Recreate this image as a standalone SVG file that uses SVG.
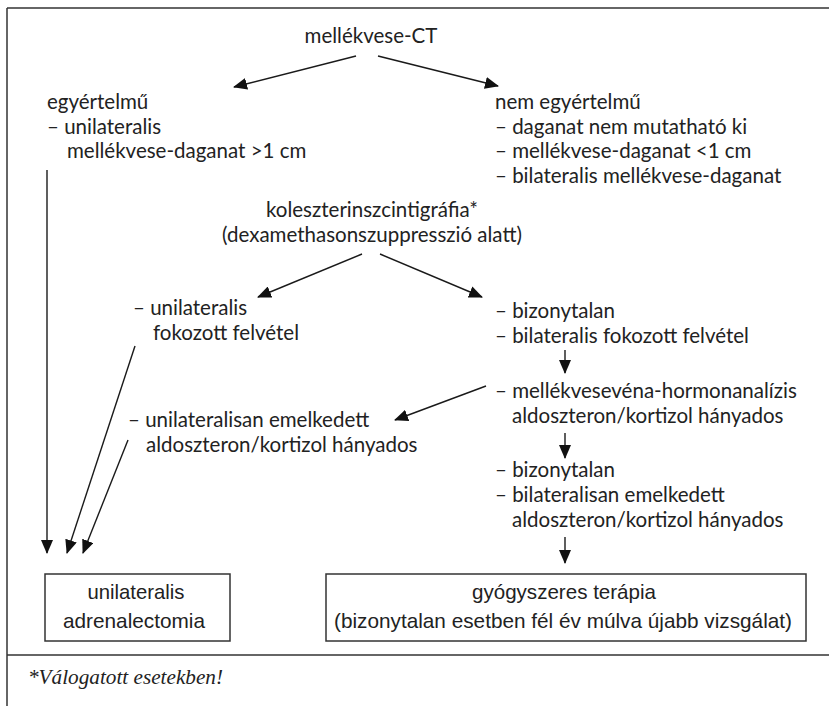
<svg xmlns="http://www.w3.org/2000/svg" width="829" height="706" viewBox="0 0 829 706">
<style>
.t{font-family:Lato,"Open Sans","DejaVu Sans",sans-serif;font-size:20.5px;fill:#222}
.b{font-family:"Liberation Sans","Arial",sans-serif;font-size:21px;fill:#222}
.f{font-family:"Liberation Serif","Times New Roman",serif;font-style:italic;font-size:20px;fill:#222}
.c{stroke:#1a1a1a;stroke-width:1.4;fill:none}
.box{fill:#fff;stroke:#333;stroke-width:1.5}
.frame{stroke:#333;stroke-width:1.5;fill:none}
</style>
<defs>
<marker id="ah" markerUnits="userSpaceOnUse" markerWidth="14" markerHeight="12" refX="13" refY="6" orient="auto">
<path d="M0,0 L14,6 L0,12 Z" fill="#111"/>
</marker>
</defs>
<rect width="829" height="706" fill="#fff"/>
<g id="frame">
<line class="frame" x1="7" y1="8" x2="829" y2="8"/>
<line class="frame" x1="7" y1="8" x2="7" y2="706"/>
<line class="frame" x1="7" y1="655" x2="829" y2="655"/>
</g>
<g id="ct"><text class="t" x="371" y="43" text-anchor="middle">mellékvese-CT</text></g>
<g id="egyertelmu">
<text class="t" x="47" y="109">egyértelmű</text>
<text class="t" x="47" y="133.5">– unilateralis</text>
<text class="t" x="67" y="158">mellékvese-daganat &gt;1 cm</text>
</g>
<g id="nemegyertelmu">
<text class="t" x="495" y="109">nem egyértelmű</text>
<text class="t" x="495" y="133.5">– daganat nem mutatható ki</text>
<text class="t" x="495" y="158">– mellékvese-daganat &lt;1 cm</text>
<text class="t" x="495" y="182.5">– bilateralis mellékvese-daganat</text>
</g>
<g id="koleszterin">
<text class="t" x="372" y="217" text-anchor="middle">koleszterinszcintigráfia*</text>
<text class="t" x="372" y="241.5" text-anchor="middle">(dexamethasonszuppresszió alatt)</text>
</g>
<g id="unilat-felvetel">
<text class="t" x="133" y="315">– unilateralis</text>
<text class="t" x="153" y="340">fokozott felvétel</text>
</g>
<g id="bizonytalan1">
<text class="t" x="495" y="318">– bizonytalan</text>
<text class="t" x="495" y="343">– bilateralis fokozott felvétel</text>
</g>
<g id="vena">
<text class="t" x="495" y="398">– mellékvesevéna-hormonanalízis</text>
<text class="t" x="512" y="423">aldoszteron/kortizol hányados</text>
</g>
<g id="unilat-emelkedett">
<text class="t" x="128" y="427">– unilateralisan emelkedett</text>
<text class="t" x="146" y="452">aldoszteron/kortizol hányados</text>
</g>
<g id="bizonytalan2">
<text class="t" x="495" y="477">– bizonytalan</text>
<text class="t" x="495" y="502">– bilateralisan emelkedett</text>
<text class="t" x="512" y="527">aldoszteron/kortizol hányados</text>
</g>
<g id="adrenalectomia">
<rect class="box" x="45" y="574" width="185" height="67"/>
<text class="b" x="136" y="599" text-anchor="middle" textLength="97" lengthAdjust="spacingAndGlyphs">unilateralis</text>
<text class="b" x="134" y="628" text-anchor="middle" textLength="142" lengthAdjust="spacingAndGlyphs">adrenalectomia</text>
</g>
<g id="terapia">
<rect class="box" x="326" y="574" width="480" height="67"/>
<text class="b" x="564" y="599" text-anchor="middle" textLength="184" lengthAdjust="spacingAndGlyphs">gyógyszeres terápia</text>
<text class="b" x="563" y="628" text-anchor="middle" textLength="458" lengthAdjust="spacingAndGlyphs">(bizonytalan esetben fél év múlva újabb vizsgálat)</text>
</g>
<g id="footnote"><text class="f" x="28" y="684" textLength="195" lengthAdjust="spacingAndGlyphs">*Válogatott esetekben!</text></g>
<g id="connectors">
<line class="c" x1="356" y1="56" x2="234" y2="87" marker-end="url(#ah)"/>
<line class="c" x1="378" y1="56" x2="498" y2="86" marker-end="url(#ah)"/>
<line class="c" x1="362" y1="254" x2="258" y2="297" marker-end="url(#ah)"/>
<line class="c" x1="380" y1="254" x2="482" y2="297" marker-end="url(#ah)"/>
<line class="c" x1="565" y1="350" x2="565" y2="373" marker-end="url(#ah)"/>
<line class="c" x1="486" y1="386" x2="395" y2="420" marker-end="url(#ah)"/>
<line class="c" x1="565" y1="433" x2="565" y2="458" marker-end="url(#ah)"/>
<line class="c" x1="565" y1="537" x2="565" y2="563" marker-end="url(#ah)"/>
<line class="c" x1="47" y1="170" x2="47" y2="553" marker-end="url(#ah)"/>
<line class="c" x1="135" y1="346" x2="67" y2="553" marker-end="url(#ah)"/>
<line class="c" x1="128" y1="440" x2="83" y2="553" marker-end="url(#ah)"/>
</g>
</svg>
